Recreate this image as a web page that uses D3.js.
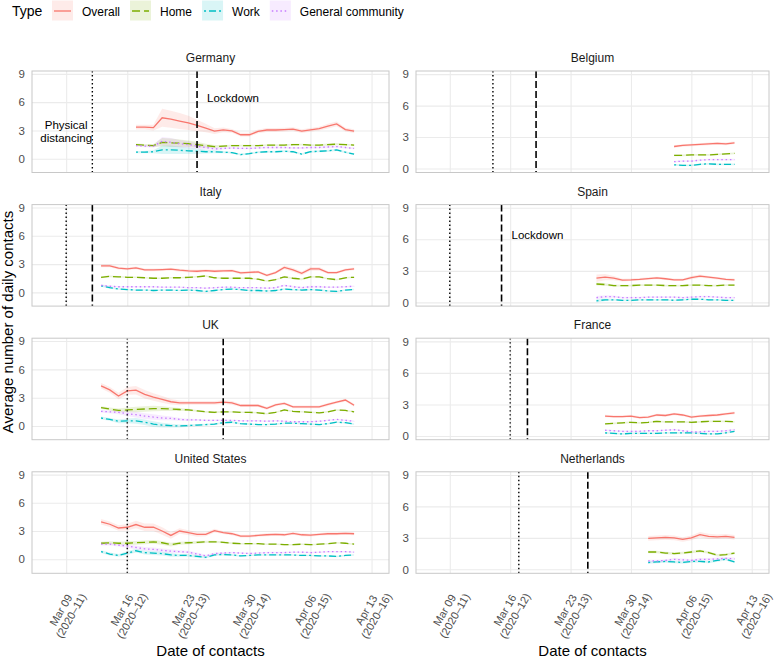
<!DOCTYPE html>
<html>
<head>
<meta charset="utf-8">
<script src="https://cdn.jsdelivr.net/npm/d3@7"></script>
<style>
  body { margin: 0; background: #ffffff; }
  text { font-family: "Liberation Sans", Arial, sans-serif; }
</style>
</head>
<body>
<div id="chart"></div>
<script>
// Types / legend
var types = ["Overall", "Home", "Work", "General community"]
var typeColors = ["#F8766D", "#7CAE00", "#00BFC4", "#C77CFF"]
var typeDash = [null, "8,4", "2,3,7,3", "1.5,2.8"]

// Facets
var countries = ["Germany", "Belgium", "Italy", "Spain", "UK", "France", "United States", "Netherlands"]
var startDates = ["2020-03-17", "2020-04-04", "2020-03-13", "2020-03-26", "2020-03-13", "2020-03-27", "2020-03-13", "2020-04-01"]
var distancingDates = ["2020-03-12", "2020-03-14", "2020-03-09", "2020-03-09", "2020-03-16", "2020-03-16", "2020-03-16", "2020-03-17"]
var lockdownDates = ["2020-03-24", "2020-03-19", "2020-03-12", "2020-03-15", "2020-03-27", "2020-03-18", null, "2020-03-25"]
var yMinValues = [-1.45, -0.38, -1.45, -0.35, -1.45, -0.35, -1.5, -0.38]
var yMaxValue = 9.3

// Axis ticks
var yTicks = [0, 3, 6, 9]
var tickDates = ["2020-03-09", "2020-03-16", "2020-03-23", "2020-03-30", "2020-04-06", "2020-04-13"]
var tickLabelsTop = ["Mar 09", "Mar 16", "Mar 23", "Mar 30", "Apr 06", "Apr 13"]
var tickLabelsBottom = ["(2020–11)", "(2020–12)", "(2020–13)", "(2020–14)", "(2020–15)", "(2020–16)"]

// Germany
var deOverall = [3.35, 3.35, 3.3, 4.35, 4.2, 4.0, 3.8, 3.55, 3.25, 2.93, 3.07, 2.95, 2.55, 2.55, 2.9, 3.05, 3.05, 3.1, 3.15, 2.93, 3.07, 3.2, 3.45, 3.7, 3.1, 2.93]
var deHome = [1.5, 1.45, 1.4, 1.75, 1.7, 1.65, 1.6, 1.5, 1.4, 1.3, 1.35, 1.4, 1.4, 1.4, 1.4, 1.45, 1.45, 1.45, 1.5, 1.5, 1.45, 1.45, 1.5, 1.55, 1.5, 1.45]
var deWork = [0.7, 0.7, 0.75, 0.95, 0.95, 0.9, 0.85, 0.8, 0.75, 0.75, 0.7, 0.65, 0.45, 0.55, 0.7, 0.75, 0.75, 0.8, 0.75, 0.5, 0.75, 0.8, 0.85, 0.95, 0.7, 0.5]
var deCommunity = [1.4, 1.35, 1.35, 1.85, 1.75, 1.6, 1.5, 1.35, 1.2, 1.05, 1.1, 1.15, 1.1, 1.1, 1.15, 1.2, 1.2, 1.2, 1.15, 1.15, 1.2, 1.2, 1.25, 1.3, 1.2, 1.1]
var deSe = [0.25, 0.25, 0.3, 0.95, 0.9, 0.85, 0.75, 0.6, 0.45, 0.3, 0.25, 0.2, 0.2, 0.2, 0.2, 0.2, 0.2, 0.2, 0.2, 0.2, 0.2, 0.2, 0.25, 0.25, 0.2, 0.2]
var deSeSub = [0.12, 0.12, 0.15, 0.45, 0.45, 0.4, 0.35, 0.3, 0.2, 0.15, 0.12, 0.1, 0.1, 0.1, 0.1, 0.1, 0.1, 0.1, 0.1, 0.1, 0.1, 0.1, 0.12, 0.12, 0.1, 0.1]

// Belgium
var beOverall = [2.1, 2.2, 2.25, 2.3, 2.35, 2.4, 2.35, 2.45]
var beHome = [1.25, 1.25, 1.3, 1.3, 1.3, 1.35, 1.4, 1.45]
var beWork = [0.35, 0.3, 0.3, 0.4, 0.45, 0.4, 0.4, 0.4]
var beCommunity = [0.65, 0.7, 0.7, 0.8, 0.85, 0.85, 0.85, 0.85]
var beSe = [0.12, 0.12, 0.12, 0.12, 0.12, 0.12, 0.12, 0.12]
var beSeSub = [0.08, 0.08, 0.08, 0.08, 0.08, 0.08, 0.08, 0.08]

// Italy
var itOverall = [2.82, 2.82, 2.57, 2.5, 2.6, 2.39, 2.39, 2.42, 2.46, 2.35, 2.28, 2.24, 2.31, 2.24, 2.28, 2.31, 2.06, 2.13, 2.17, 1.81, 2.1, 2.64, 2.39, 2.02, 2.5, 2.5, 2.1, 2.1, 2.39, 2.5]
var itHome = [1.6, 1.7, 1.65, 1.6, 1.6, 1.55, 1.5, 1.5, 1.55, 1.55, 1.6, 1.65, 1.75, 1.55, 1.5, 1.5, 1.5, 1.5, 1.4, 1.2, 1.35, 1.65, 1.5, 1.4, 1.65, 1.65, 1.45, 1.35, 1.55, 1.6]
var itWork = [0.7, 0.5, 0.35, 0.3, 0.25, 0.25, 0.2, 0.25, 0.25, 0.2, 0.25, 0.2, 0.1, 0.2, 0.3, 0.35, 0.3, 0.2, 0.2, 0.15, 0.2, 0.35, 0.3, 0.25, 0.3, 0.25, 0.15, 0.1, 0.25, 0.3]
var itCommunity = [0.75, 0.65, 0.6, 0.6, 0.6, 0.6, 0.6, 0.55, 0.55, 0.55, 0.5, 0.5, 0.45, 0.5, 0.55, 0.55, 0.5, 0.5, 0.5, 0.45, 0.5, 0.75, 0.6, 0.5, 0.6, 0.6, 0.55, 0.55, 0.6, 0.65]
var itSe = [0.15, 0.15, 0.15, 0.15, 0.15, 0.15, 0.15, 0.15, 0.15, 0.15, 0.15, 0.15, 0.15, 0.15, 0.15, 0.15, 0.15, 0.15, 0.15, 0.15, 0.15, 0.2, 0.2, 0.2, 0.2, 0.2, 0.15, 0.15, 0.15, 0.15]
var itSeSub = [0.1, 0.1, 0.08, 0.08, 0.08, 0.08, 0.08, 0.08, 0.08, 0.08, 0.08, 0.08, 0.08, 0.08, 0.08, 0.08, 0.08, 0.08, 0.08, 0.08, 0.08, 0.1, 0.1, 0.1, 0.1, 0.1, 0.08, 0.08, 0.08, 0.08]

// Spain
var esOverall = [2.3, 2.4, 2.3, 2.12, 2.15, 2.2, 2.27, 2.33, 2.25, 2.15, 2.15, 2.35, 2.5, 2.4, 2.3, 2.2, 2.15]
var esHome = [1.75, 1.7, 1.6, 1.6, 1.6, 1.65, 1.65, 1.65, 1.6, 1.6, 1.6, 1.65, 1.65, 1.6, 1.6, 1.65, 1.65]
var esWork = [0.15, 0.25, 0.25, 0.2, 0.2, 0.25, 0.25, 0.25, 0.25, 0.2, 0.25, 0.3, 0.3, 0.25, 0.25, 0.2, 0.2]
var esCommunity = [0.45, 0.55, 0.55, 0.45, 0.45, 0.45, 0.5, 0.5, 0.5, 0.5, 0.45, 0.5, 0.55, 0.55, 0.5, 0.45, 0.45]
var esSe = [0.35, 0.3, 0.2, 0.12, 0.12, 0.12, 0.12, 0.12, 0.12, 0.12, 0.12, 0.15, 0.15, 0.12, 0.12, 0.12, 0.12]
var esSeSub = [0.15, 0.12, 0.1, 0.08, 0.08, 0.08, 0.08, 0.08, 0.08, 0.08, 0.08, 0.08, 0.08, 0.08, 0.08, 0.08, 0.08]

// UK
var ukOverall = [4.26, 3.83, 3.18, 3.72, 3.79, 3.36, 3.07, 2.82, 2.57, 2.46, 2.46, 2.46, 2.46, 2.46, 2.53, 2.46, 2.17, 2.17, 2.17, 1.88, 2.24, 2.39, 2.02, 2.02, 2.02, 2.02, 2.28, 2.53, 2.75, 2.2]
var ukHome = [1.95, 1.8, 1.65, 1.7, 1.75, 1.8, 1.85, 1.85, 1.8, 1.75, 1.7, 1.6, 1.5, 1.45, 1.5, 1.5, 1.45, 1.45, 1.4, 1.3, 1.45, 1.7, 1.55, 1.5, 1.45, 1.4, 1.5, 1.7, 1.65, 1.5]
var ukWork = [0.85, 0.7, 0.5, 0.55, 0.55, 0.4, 0.2, 0.1, 0.05, 0.0, 0.05, 0.1, 0.15, 0.2, 0.35, 0.4, 0.25, 0.2, 0.15, 0.15, 0.2, 0.3, 0.3, 0.25, 0.2, 0.15, 0.25, 0.4, 0.35, 0.2]
var ukCommunity = [1.55, 1.5, 1.45, 1.3, 1.2, 1.05, 0.95, 0.85, 0.8, 0.7, 0.65, 0.65, 0.6, 0.6, 0.6, 0.6, 0.55, 0.55, 0.55, 0.5, 0.55, 0.5, 0.45, 0.45, 0.45, 0.5, 0.6, 0.7, 0.6, 0.5]
var ukSe = [0.3, 0.3, 0.35, 0.4, 0.45, 0.45, 0.4, 0.35, 0.3, 0.25, 0.2, 0.2, 0.2, 0.2, 0.2, 0.2, 0.15, 0.15, 0.15, 0.15, 0.15, 0.15, 0.15, 0.15, 0.15, 0.15, 0.15, 0.15, 0.15, 0.15]
var ukSeSub = [0.15, 0.15, 0.2, 0.25, 0.3, 0.3, 0.3, 0.25, 0.2, 0.15, 0.12, 0.1, 0.1, 0.1, 0.1, 0.1, 0.08, 0.08, 0.08, 0.08, 0.08, 0.08, 0.08, 0.08, 0.08, 0.08, 0.08, 0.08, 0.08, 0.08]

// France
var frOverall = [1.9, 1.85, 1.85, 1.9, 1.75, 1.8, 2.0, 1.95, 2.1, 2.0, 1.8, 1.9, 1.95, 2.0, 2.1, 2.2]
var frHome = [1.15, 1.2, 1.25, 1.3, 1.25, 1.3, 1.4, 1.35, 1.35, 1.35, 1.3, 1.35, 1.4, 1.4, 1.4, 1.35]
var frWork = [0.3, 0.25, 0.2, 0.25, 0.25, 0.25, 0.25, 0.3, 0.3, 0.3, 0.3, 0.25, 0.2, 0.2, 0.3, 0.45]
var frCommunity = [0.55, 0.5, 0.45, 0.45, 0.45, 0.5, 0.5, 0.55, 0.6, 0.5, 0.4, 0.4, 0.45, 0.45, 0.5, 0.6]
var frSe = [0.12, 0.12, 0.12, 0.12, 0.12, 0.12, 0.12, 0.12, 0.12, 0.12, 0.12, 0.12, 0.12, 0.12, 0.12, 0.12]
var frSeSub = [0.08, 0.08, 0.08, 0.08, 0.08, 0.08, 0.08, 0.08, 0.08, 0.08, 0.08, 0.08, 0.08, 0.08, 0.08, 0.08]

// United States
var usOverall = [3.98, 3.72, 3.32, 3.4, 3.69, 3.4, 3.4, 3.0, 2.53, 3.0, 2.82, 2.64, 2.64, 3.04, 2.82, 2.71, 2.46, 2.46, 2.53, 2.6, 2.64, 2.6, 2.75, 2.6, 2.57, 2.64, 2.71, 2.71, 2.75, 2.71]
var usHome = [1.7, 1.75, 1.7, 1.7, 1.75, 1.8, 1.85, 1.75, 1.55, 1.7, 1.75, 1.8, 1.85, 1.85, 1.8, 1.7, 1.65, 1.65, 1.65, 1.6, 1.6, 1.55, 1.55, 1.6, 1.55, 1.6, 1.65, 1.75, 1.7, 1.6]
var usWork = [0.8, 0.55, 0.4, 0.65, 0.9, 0.7, 0.65, 0.6, 0.45, 0.4, 0.4, 0.3, 0.2, 0.45, 0.5, 0.45, 0.35, 0.4, 0.45, 0.45, 0.45, 0.45, 0.45, 0.4, 0.4, 0.35, 0.35, 0.3, 0.4, 0.45]
var usCommunity = [1.6, 1.6, 1.5, 1.4, 1.25, 1.1, 1.05, 0.95, 0.85, 0.8, 0.75, 0.55, 0.35, 0.6, 0.65, 0.7, 0.65, 0.6, 0.65, 0.7, 0.7, 0.7, 0.75, 0.75, 0.7, 0.75, 0.8, 0.8, 0.8, 0.75]
var usSe = [0.3, 0.3, 0.3, 0.35, 0.4, 0.4, 0.4, 0.4, 0.35, 0.3, 0.25, 0.25, 0.2, 0.2, 0.15, 0.15, 0.15, 0.15, 0.15, 0.15, 0.15, 0.15, 0.15, 0.15, 0.15, 0.15, 0.15, 0.15, 0.15, 0.15]
var usSeSub = [0.15, 0.15, 0.15, 0.2, 0.2, 0.2, 0.2, 0.2, 0.2, 0.15, 0.15, 0.15, 0.12, 0.12, 0.1, 0.1, 0.08, 0.08, 0.08, 0.08, 0.08, 0.08, 0.08, 0.08, 0.08, 0.08, 0.08, 0.08, 0.08, 0.08]

// Netherlands
var nlOverall = [2.95, 3.0, 3.05, 3.0, 2.85, 3.0, 3.3, 3.15, 3.1, 3.15, 3.05]
var nlHome = [1.65, 1.65, 1.55, 1.5, 1.55, 1.65, 1.75, 1.6, 1.35, 1.4, 1.55]
var nlWork = [0.65, 0.7, 0.75, 0.7, 0.65, 0.75, 0.75, 0.7, 0.85, 0.95, 0.7]
var nlCommunity = [0.8, 0.8, 0.85, 0.95, 0.9, 0.85, 0.95, 0.95, 1.0, 1.05, 1.0]
var nlSe = [0.22, 0.22, 0.22, 0.22, 0.22, 0.22, 0.25, 0.25, 0.22, 0.22, 0.22]
var nlSeSub = [0.12, 0.12, 0.12, 0.12, 0.12, 0.12, 0.12, 0.12, 0.12, 0.12, 0.12]

// Annotation text
var lockdownLabelY = 6.4
var distancingLabelY = 2.9
var lockdownLabelCountries = ["Germany", "Spain"]
var distancingLabelCountries = ["Germany"]
var distancingLabelDate = "2020-03-09"

var overallSeries = [deOverall, beOverall, itOverall, esOverall, ukOverall, frOverall, usOverall, nlOverall]
var homeSeries = [deHome, beHome, itHome, esHome, ukHome, frHome, usHome, nlHome]
var workSeries = [deWork, beWork, itWork, esWork, ukWork, frWork, usWork, nlWork]
var communitySeries = [deCommunity, beCommunity, itCommunity, esCommunity, ukCommunity, frCommunity, usCommunity, nlCommunity]
var seSeries = [deSe, beSe, itSe, esSe, ukSe, frSe, usSe, nlSe]
var seSubSeries = [deSeSub, beSeSub, itSeSub, esSeSub, ukSeSub, frSeSub, usSeSub, nlSeSub]

var parseDate = d3.timeParse("%Y-%m-%d")

function makeRows(i, values, se) {
  var start = parseDate(startDates[i])
  return values.map(function (v, k) {
    return { date: d3.timeDay.offset(start, k), value: v, lo: v - se[k], hi: v + se[k] }
  })
}

function makeChart() {
  var width = 774
  var height = 658

  // panel geometry
  var colX = [[32, 389], [416, 769]]
  var panelTop = 71
  var panelStep = 133.6
  var panelHeight = 101.5
  var xDomain = [new Date(2020, 2, 5, 2), new Date(2020, 3, 15, 0)]

  var svg = d3.select("#chart")
    .append("svg")
    .attr("width", width)
    .attr("height", height)

  svg.append("rect").attr("width", width).attr("height", height).attr("fill", "#ffffff")

  countries.forEach(function (country, i) {
    var col = i % 2
    var row = Math.floor(i / 2)
    var left = colX[col][0]
    var right = colX[col][1]
    var top = panelTop + row * panelStep
    var bottom = top + panelHeight

    var x = d3.scaleTime().domain(xDomain).range([left, right])
    var y = d3.scaleLinear().domain([yMinValues[i], yMaxValue]).range([bottom, top])

    var panel = svg.append("g").attr("class", "panel")

    panel.append("clipPath").attr("id", "clip" + i)
      .append("rect")
      .attr("x", left).attr("y", top)
      .attr("width", right - left).attr("height", panelHeight)

    //Grid lines from axes
    var gy = panel.append("g")
      .attr("transform", "translate(" + left + ",0)")
      .call(d3.axisLeft(y).tickValues(yTicks).tickSize(-(right - left)).tickPadding(7))
    gy.select(".domain").remove()
    gy.selectAll(".tick line").attr("stroke", "#EBEBEB").attr("stroke-width", 1.1)
    gy.selectAll(".tick text")
      .attr("fill", "#4D4D4D")
      .attr("font-size", 11.5)
      .attr("font-family", "Liberation Sans, Arial, sans-serif")

    var gx = panel.append("g")
      .attr("transform", "translate(0," + bottom + ")")
      .call(d3.axisBottom(x).tickValues(tickDates.map(parseDate)).tickSize(-panelHeight).tickFormat(""))
    gx.select(".domain").remove()
    gx.selectAll(".tick line").attr("stroke", "#EBEBEB").attr("stroke-width", 1.1)

    // strip title
    panel.append("text")
      .attr("x", (left + right) / 2)
      .attr("y", top - 9)
      .attr("text-anchor", "middle")
      .attr("font-size", 12)
      .attr("fill", "#1A1A1A")
      .text(country)

    var plot = panel.append("g").attr("clip-path", "url(#clip" + i + ")")

    var typeRows = [
      makeRows(i, overallSeries[i], seSeries[i]),
      makeRows(i, homeSeries[i], seSubSeries[i]),
      makeRows(i, workSeries[i], seSubSeries[i]),
      makeRows(i, communitySeries[i], seSubSeries[i])
    ]

    var area = d3.area()
      .x(function (d) { return x(d.date) })
      .y0(function (d) { return y(d.lo) })
      .y1(function (d) { return y(d.hi) })

    var line = d3.line()
      .x(function (d) { return x(d.date) })
      .y(function (d) { return y(d.value) })

    typeRows.forEach(function (rows, t) {
      plot.append("path")
        .attr("d", area(rows))
        .attr("fill", typeColors[t])
        .attr("fill-opacity", 0.15)
    })

    typeRows.forEach(function (rows, t) {
      plot.append("path")
        .attr("d", line(rows))
        .attr("fill", "none")
        .attr("stroke", typeColors[t])
        .attr("stroke-width", 1.3)
        .attr("stroke-dasharray", typeDash[t])
    })

    // intervention lines
    var dDist = parseDate(distancingDates[i])
    plot.append("line")
      .attr("x1", x(dDist)).attr("x2", x(dDist))
      .attr("y1", top).attr("y2", bottom)
      .attr("stroke", "#000000")
      .attr("stroke-width", 1.4)
      .attr("stroke-dasharray", "1.4,2.6")

    if (lockdownDates[i]) {
      var dLock = parseDate(lockdownDates[i])
      plot.append("line")
        .attr("x1", x(dLock)).attr("x2", x(dLock))
        .attr("y1", top).attr("y2", bottom)
        .attr("stroke", "#000000")
        .attr("stroke-width", 1.6)
        .attr("stroke-dasharray", "7,3")

      if (lockdownLabelCountries.indexOf(country) >= 0) {
        panel.append("text")
          .attr("x", x(dLock) + 10)
          .attr("y", y(lockdownLabelY))
          .attr("dy", "0.35em")
          .attr("font-size", 11.5)
          .attr("fill", "#000000")
          .text("Lockdown")
      }
    }

    if (distancingLabelCountries.indexOf(country) >= 0) {
      var lab = panel.append("text")
        .attr("text-anchor", "middle")
        .attr("font-size", 11.5)
        .attr("fill", "#000000")
        .attr("y", y(distancingLabelY))
      lab.append("tspan").attr("x", x(parseDate(distancingLabelDate))).attr("dy", "-0.25em").text("Physical")
      lab.append("tspan").attr("x", x(parseDate(distancingLabelDate))).attr("dy", "1.15em").text("distancing")
    }

    // panel border
    panel.append("rect")
      .attr("x", left).attr("y", top)
      .attr("width", right - left).attr("height", panelHeight)
      .attr("fill", "none")
      .attr("stroke", "#C8C8C8")
      .attr("stroke-width", 1)

    // date labels only under the bottom row
    if (row === 3) {
      var gt = panel.append("g")
        .attr("transform", "translate(0," + (bottom + 40) + ")")
        .call(d3.axisBottom(x).tickValues(tickDates.map(parseDate)).tickSize(0).tickFormat(""))
      gt.select(".domain").remove()
      gt.selectAll(".tick text").each(function (d, k) {
        var t = d3.select(this)
        t.attr("y", 0).attr("dy", null)
          .attr("text-anchor", "middle")
          .attr("transform", "rotate(-60)")
          .attr("fill", "#4D4D4D")
          .attr("font-size", 11)
          .attr("font-family", "Liberation Sans, Arial, sans-serif")
        t.append("tspan").attr("x", 0).attr("dy", "-0.25em").text(tickLabelsTop[k])
        t.append("tspan").attr("x", 0).attr("dy", "1.05em").text(tickLabelsBottom[k])
      })

      svg.append("text")
        .attr("x", (left + right) / 2)
        .attr("y", 656)
        .attr("text-anchor", "middle")
        .attr("font-size", 15)
        .attr("fill", "#000000")
        .text("Date of contacts")
    }
  })

  // y title
  svg.append("text")
    .attr("transform", "translate(13,322) rotate(-90)")
    .attr("text-anchor", "middle")
    .attr("font-size", 15)
    .attr("fill", "#000000")
    .text("Average number of daily contacts")

  // Legend
  var legend = svg.append("g")
  legend.append("text")
    .attr("x", 12)
    .attr("y", 16)
    .attr("font-size", 14)
    .attr("fill", "#000000")
    .text("Type")

  var keyX = 52
  types.forEach(function (name, t) {
    legend.append("rect")
      .attr("x", keyX).attr("y", 0.5)
      .attr("width", 21).attr("height", 20)
      .attr("fill", typeColors[t])
      .attr("fill-opacity", 0.15)
    legend.append("line")
      .attr("x1", keyX + 2).attr("x2", keyX + 19)
      .attr("y1", 11).attr("y2", 11)
      .attr("stroke", typeColors[t])
      .attr("stroke-width", 1.3)
      .attr("stroke-dasharray", typeDash[t])
    var label = legend.append("text")
      .attr("x", keyX + 30)
      .attr("y", 15.5)
      .attr("font-size", 12)
      .attr("fill", "#000000")
      .text(name)
    keyX = keyX + 30 + label.node().getComputedTextLength() + 10
  })
}

makeChart()
</script>
</body>
</html>
